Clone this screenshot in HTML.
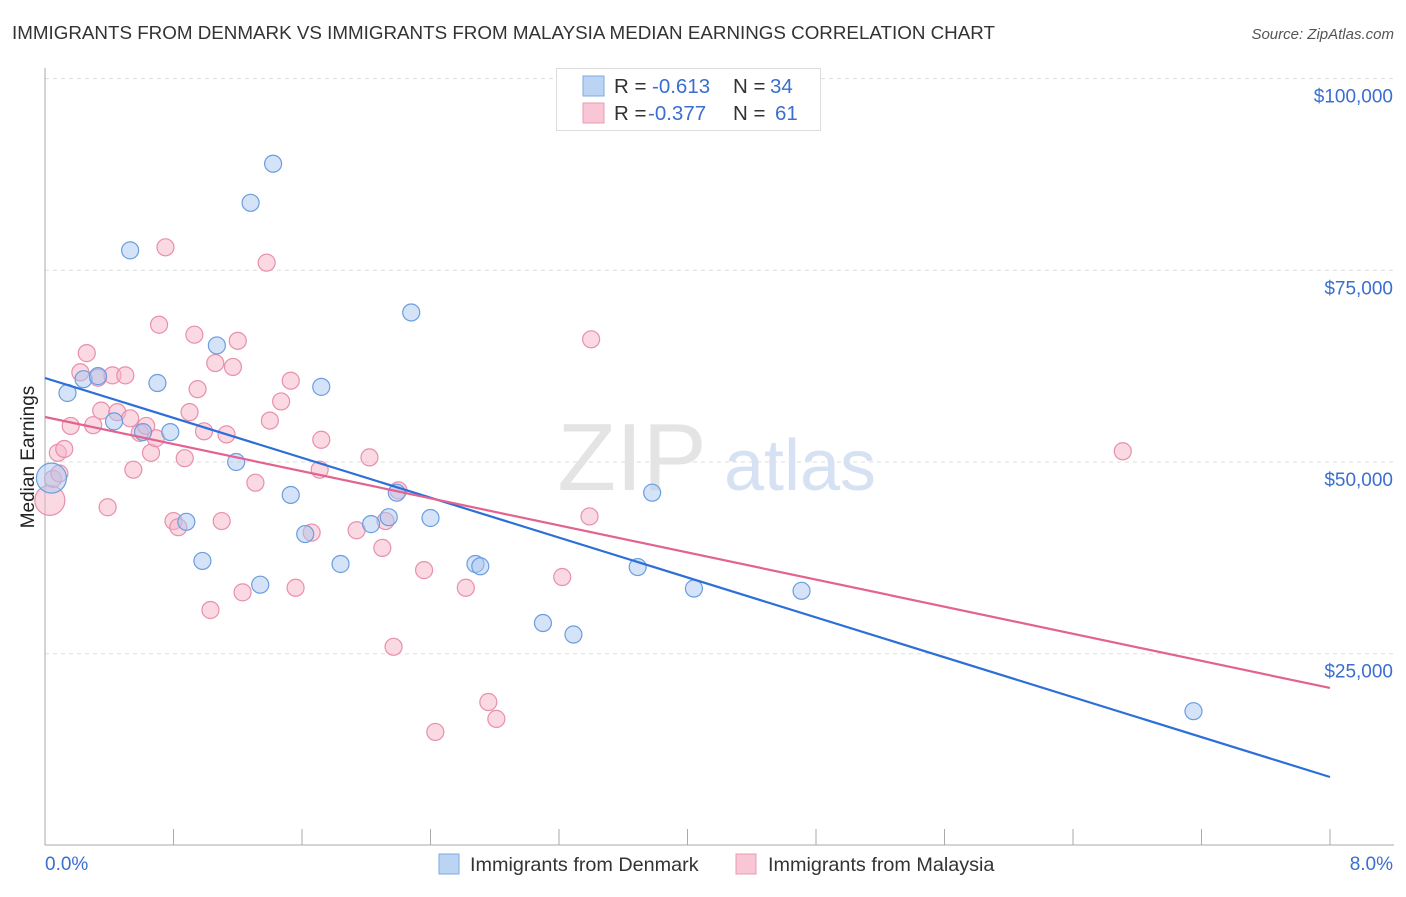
<!DOCTYPE html>
<html><head><meta charset="utf-8">
<style>
body{margin:0;background:#fff;font-family:"Liberation Sans",sans-serif;}
svg text{font-family:"Liberation Sans",sans-serif;}
</style></head>
<body>
<svg id="chart" width="1406" height="892">
<text x="12" y="39" font-size="18.8" fill="#333">IMMIGRANTS FROM DENMARK VS IMMIGRANTS FROM MALAYSIA MEDIAN EARNINGS CORRELATION CHART</text>
<text x="1394" y="39" font-size="15" fill="#555" font-style="italic" text-anchor="end">Source: ZipAtlas.com</text>
<text x="34" y="457" font-size="19" fill="#222" text-anchor="middle" transform="rotate(-90 34 457)">Median Earnings</text>
<g id="grid"></g>
<g>
<text x="632" y="490" font-size="96" fill="#e4e4e4" font-family="Liberation Serif" text-anchor="middle">ZIP</text>
<text x="800" y="490" font-size="72" fill="#d6e2f3" text-anchor="middle">atlas</text>
</g>
<g id="ylabels"></g>
<g id="xaxis"></g>
<g id="pts"></g>
<g id="lines"></g>
<g>
<rect x="556.5" y="68.5" width="264" height="62" fill="#fff" stroke="#ddd"/>
<rect x="583" y="76" width="21" height="20" fill="#bcd4f4" stroke="#7fa8e4"/>
<rect x="583" y="103" width="21" height="20" fill="#f9c6d6" stroke="#eb9ab5"/>
<text x="614" y="93" font-size="20.5" fill="#333">R = </text><text x="652" y="93" font-size="20.5" fill="#3a6fd0">-0.613</text>
<text x="733" y="93" font-size="20.5" fill="#333">N = </text><text x="770" y="93" font-size="20.5" fill="#3a6fd0">34</text>
<text x="614" y="120" font-size="20.5" fill="#333">R = </text><text x="648" y="120" font-size="20.5" fill="#3a6fd0">-0.377</text>
<text x="733" y="120" font-size="20.5" fill="#333">N = </text><text x="775" y="120" font-size="20.5" fill="#3a6fd0">61</text>
</g>
<g>
<rect x="439" y="854" width="20" height="20" fill="#bcd4f4" stroke="#7fa8e4"/>
<text x="470" y="871" font-size="19.8" fill="#333">Immigrants from Denmark</text>
<rect x="736" y="854" width="20" height="20" fill="#f9c6d6" stroke="#eb9ab5"/>
<text x="768" y="871" font-size="19.8" fill="#333">Immigrants from Malaysia</text>
</g>
</svg>
<script>
const yTicks=[25000,50000,75000,100000];
const yTickLabels=["$25,000","$50,000","$75,000","$100,000"];
const xTickLabels=["0.0%","8.0%"];
const denmarkX=[0.04,0.14,0.24,0.33,0.43,0.53,0.61,0.70,0.78,0.88,0.98,1.07,1.19,1.28,1.34,1.42,1.53,1.62,1.72,1.84,2.03,2.14,2.19,2.28,2.40,2.68,2.71,3.10,3.29,3.69,3.78,4.04,4.71,7.15];
const denmarkY=[47900,59000,60800,61200,55300,77600,53900,60300,53900,42200,37100,65200,50000,83800,34000,88900,45700,40600,59800,36700,41900,42800,46000,69500,42700,36700,36400,29000,27500,36300,46000,33500,33200,17500];
const malaysiaX=[0.03,0.05,0.08,0.12,0.16,0.22,0.26,0.30,0.33,0.35,0.39,0.42,0.45,0.50,0.53,0.55,0.59,0.63,0.66,0.69,0.71,0.75,0.80,0.83,0.87,0.90,0.93,0.95,0.99,1.03,1.06,1.10,1.13,1.17,1.20,1.23,1.31,1.38,1.40,1.47,1.53,1.56,1.66,1.71,1.72,1.94,2.02,2.10,2.12,2.17,2.20,2.36,2.43,2.62,2.76,2.81,3.22,3.39,3.40,6.71,0.09];
const malaysiaY=[45000,47800,51200,51700,54700,61700,64200,54800,61000,56700,44100,61300,56500,61300,55700,49000,53800,54700,51200,53100,67900,78000,42300,41500,50500,56500,66600,59500,54000,30700,62900,42300,53600,62400,65800,33000,47300,76000,55400,57900,60600,33600,40800,49000,52900,41100,50600,38800,42300,25900,46300,35900,14800,33600,18700,16500,35000,42900,66000,51400,48500];
const trendX=[0,8];
const denmarkTrend=[60955,8920];
const malaysiaTrend=[55870,20530];
const NS="http://www.w3.org/2000/svg";
const X0=45,X1=1330,xMax=8;
const xs=v=>X0+v/xMax*(X1-X0);
const ys=v=>462-(v-50000)*191.7/25000;
function mk(tag,attrs,parent){const e=document.createElementNS(NS,tag);for(const k in attrs)e.setAttribute(k,attrs[k]);parent.appendChild(e);return e;}
const grid=document.getElementById('grid'),yl=document.getElementById('ylabels'),xa=document.getElementById('xaxis');
yTicks.forEach((t,i)=>{
 const l=mk('line',{x1:X0,x2:1394,y1:ys(t),y2:ys(t),stroke:'#ddd','stroke-dasharray':'4,4'},grid);
 
 
 const tx=mk('text',{x:1393,y:ys(t)+24,'font-size':19,fill:'#3a6fd0','text-anchor':'end'},yl);
 tx.textContent=yTickLabels[i];
 
 
});
mk('line',{x1:X0,x2:X0,y1:68,y2:845,stroke:'#aaa'},xa);
mk('line',{x1:X0,x2:1394,y1:845,y2:845,stroke:'#aaa'},xa);
for(let i=0;i<=10;i++){const x=X0+i*(X1-X0)/10;mk('line',{x1:x,x2:x,y1:829,y2:845,stroke:'#aaa'},xa);}
xTickLabels.forEach((s,i)=>{
 const t=mk('text',{x:i?1393:45,y:870,'font-size':19,fill:'#3a6fd0','text-anchor':i?'end':'start'},xa);
 t.textContent=s;
 
 
});
const pts=document.getElementById('pts');
function drawSeries(X,Y,fill,stroke,name,bigIdx){
 X.forEach((x,i)=>{
  const c=mk('circle',{cx:xs(x),cy:ys(Y[i]),r:i===bigIdx?15:8.5,fill:fill,'fill-opacity':0.5,stroke:stroke,'stroke-width':1.2},pts);
  
  
 });
}
drawSeries(malaysiaX,malaysiaY,'#f6b3c8','#e88fac','malaysia-point',0);
drawSeries(denmarkX,denmarkY,'#a9c8f0','#6b9de0','denmark-point',0);
const lines=document.getElementById('lines');
const bl=mk('line',{x1:xs(trendX[0]),y1:ys(denmarkTrend[0]),x2:xs(trendX[1]),y2:ys(denmarkTrend[1]),stroke:'#2d6fd8','stroke-width':2.2},lines);


const pl=mk('line',{x1:xs(trendX[0]),y1:ys(malaysiaTrend[0]),x2:xs(trendX[1]),y2:ys(malaysiaTrend[1]),stroke:'#e2638f','stroke-width':2.2},lines);


</script>
</body></html>
